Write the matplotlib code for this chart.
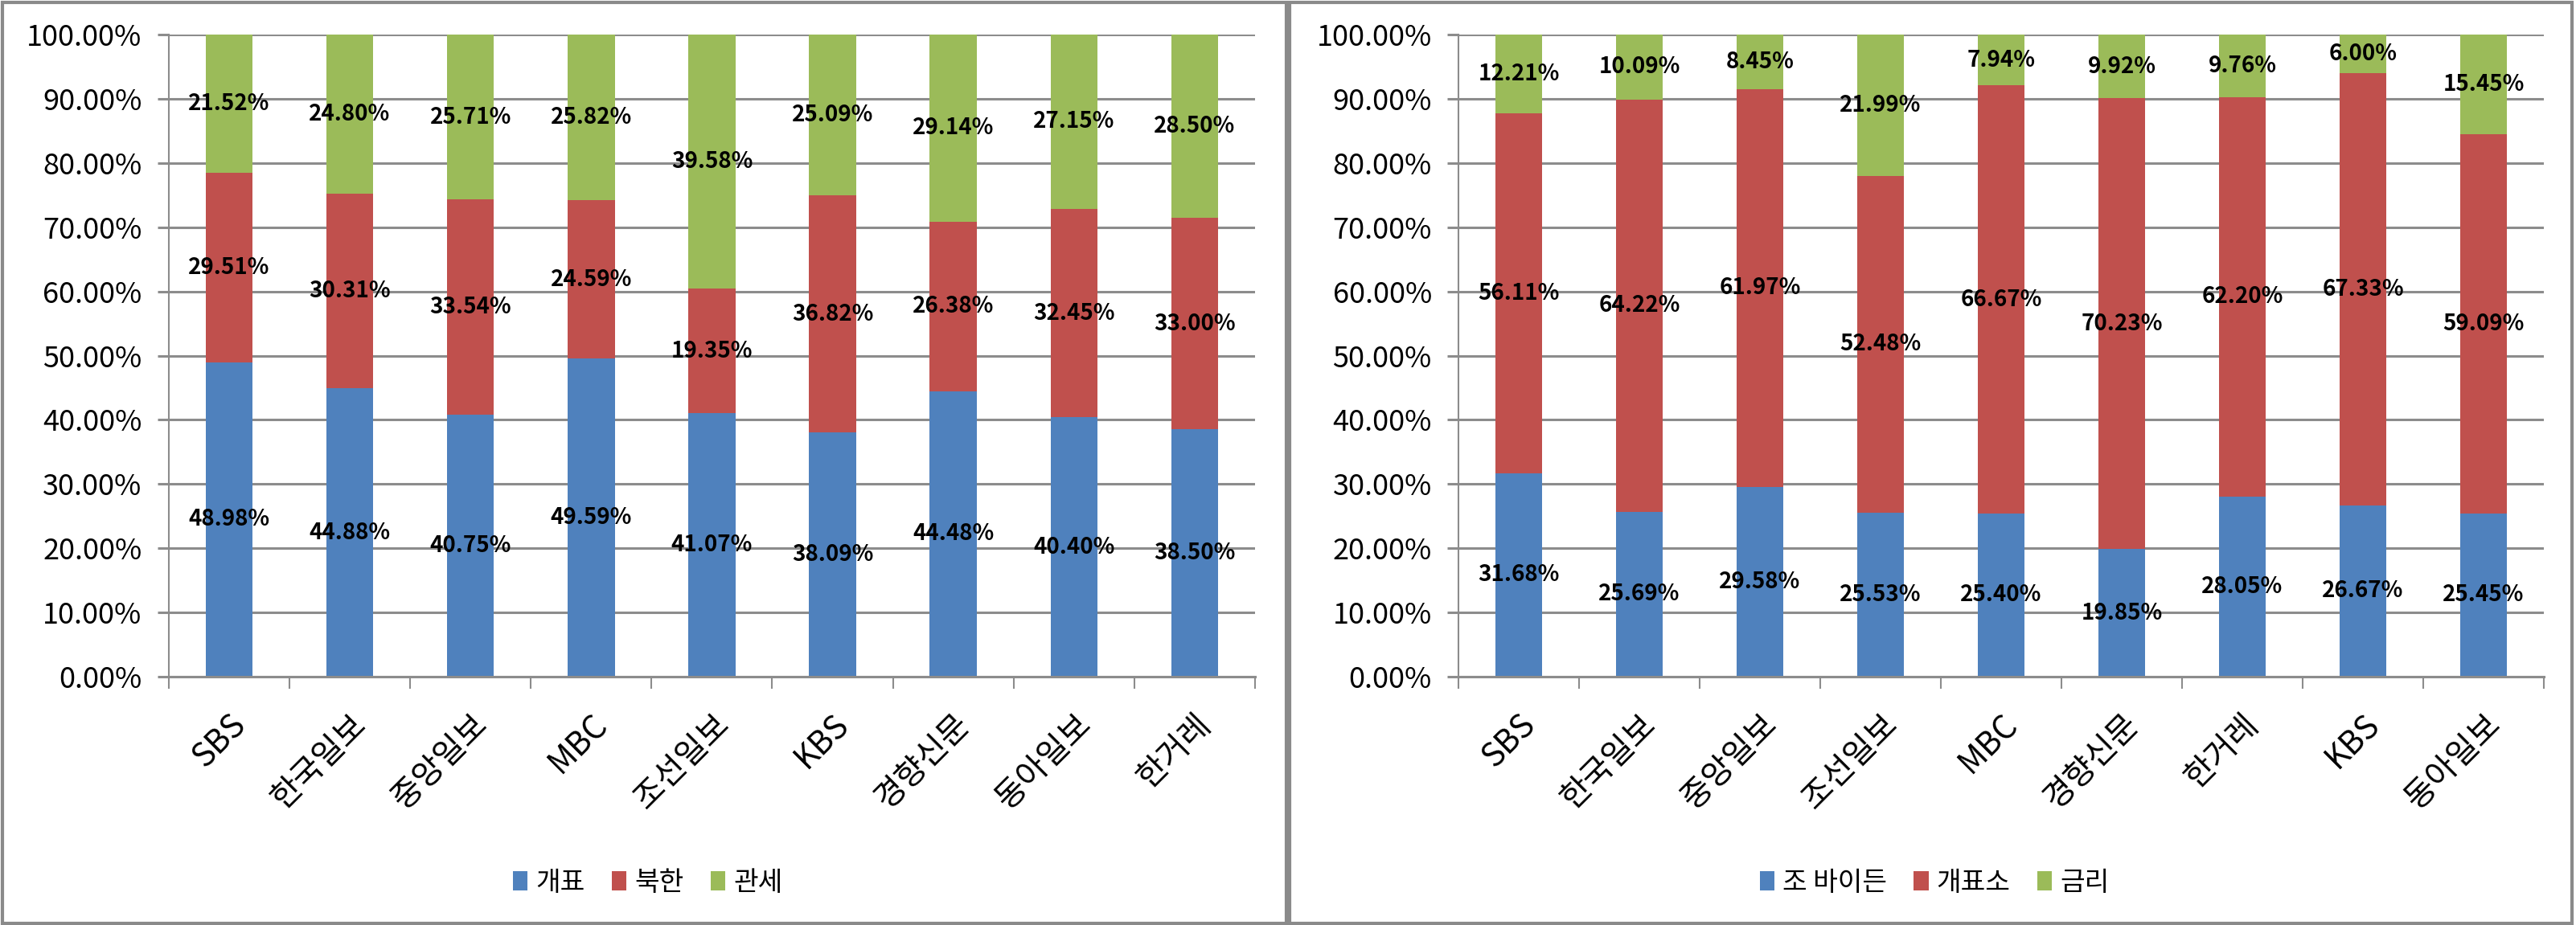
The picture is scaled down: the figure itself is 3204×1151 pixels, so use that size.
import numpy as np
import matplotlib
matplotlib.use("Agg")
import matplotlib.pyplot as plt
from matplotlib.patches import Rectangle
from matplotlib.ticker import FixedLocator, FuncFormatter

plt.rcParams['font.family'] = ['Noto Sans CJK KR', 'DejaVu Sans']

# left chart
left_cats = ["SBS", "한국일보", "중앙일보", "MBC", "조선일보", "KBS", "경향신문", "동아일보", "한거레"]
left_names = ["개표", "북한", "관세"]
left_gaepyo = [48.98, 44.88, 40.75, 49.59, 41.07, 38.09, 44.48, 40.40, 38.50]
left_bukhan = [29.51, 30.31, 33.54, 24.59, 19.35, 36.82, 26.38, 32.45, 33.00]
left_gwanse = [21.52, 24.80, 25.71, 25.82, 39.58, 25.09, 29.14, 27.15, 28.50]

# right chart
right_cats = ["SBS", "한국일보", "중앙일보", "조선일보", "MBC", "경향신문", "한거레", "KBS", "동아일보"]
right_names = ["조 바이든", "개표소", "금리"]
right_biden = [31.68, 25.69, 29.58, 25.53, 25.40, 19.85, 28.05, 26.67, 25.45]
right_gaepyoso = [56.11, 64.22, 61.97, 52.48, 66.67, 70.23, 62.20, 67.33, 59.09]
right_geumri = [12.21, 10.09, 8.45, 21.99, 7.94, 9.92, 9.76, 6.00, 15.45]

colors = ["#4f81bd", "#c0504d", "#9bbb59"]
grid_col = "#8c8c8c"


def draw_panel(ax, cats, series, names, legend_x):
    x = np.arange(len(cats))
    bottom = np.zeros(len(cats))
    handles = []
    for vals, col, name in zip(series, colors, names):
        vals = np.array(vals)
        bars = ax.bar(x, vals, 0.39, bottom=bottom, color=col, zorder=2, label=name)
        handles.append(bars)
        for xi, b, v in zip(x, bottom, vals):
            ax.text(xi, b + v / 2, "%.2f%%" % v, ha="center", va="center",
                    fontsize=20, fontweight="bold", color="black", zorder=3)
        bottom = bottom + vals

    ax.set_xlim(-0.5, len(cats) - 0.5)
    ax.set_ylim(0, 100)
    ax.set_yticks(np.arange(0, 101, 10))
    ax.yaxis.set_major_formatter(FuncFormatter(lambda v, p: "%.2f%%" % v))
    ax.grid(axis="y", color=grid_col, linewidth=2.2, zorder=0)
    ax.set_axisbelow(True)

    ax.set_xticks(x)
    ax.set_xticklabels(cats, rotation=45, ha="right", rotation_mode="anchor", fontsize=29)
    ax.tick_params(axis="x", length=0, pad=28)
    ax.xaxis.set_minor_locator(FixedLocator(np.arange(-0.5, len(cats), 1.0)))
    ax.tick_params(axis="x", which="minor", length=11, width=1.5, color=grid_col)
    ax.tick_params(axis="y", length=10, width=2.2, color=grid_col, labelsize=26, pad=14)

    for s in ["top", "right"]:
        ax.spines[s].set_visible(False)
    ax.spines["left"].set_color(grid_col)
    ax.spines["left"].set_linewidth(1.5)
    ax.spines["bottom"].set_color(grid_col)
    ax.spines["bottom"].set_linewidth(2.2)

    fig.legend(handles, names, loc="center", bbox_to_anchor=(legend_x, 0.046),
               ncol=3, frameon=False, fontsize=24, handlelength=0.55, handleheight=0.7,
               handletextpad=0.3, columnspacing=1.0)


fig = plt.figure(figsize=(32.04, 11.51), dpi=100)
ax1 = fig.add_axes([0.0655, 0.2685, 0.4217, 0.6941])
ax2 = fig.add_axes([0.5662, 0.2685, 0.4213, 0.6941])

draw_panel(ax1, left_cats, [left_gaepyo, left_bukhan, left_gwanse], left_names, 0.2515)
draw_panel(ax2, right_cats, [right_biden, right_gaepyoso, right_geumri], right_names, 0.751)

# chart area borders
fig.add_artist(Rectangle((0.001, 0.002), 0.4985, 0.995, transform=fig.transFigure,
                         fill=False, edgecolor="#8a8a8a", linewidth=3))
fig.add_artist(Rectangle((0.5005, 0.002), 0.498, 0.995, transform=fig.transFigure,
                         fill=False, edgecolor="#8a8a8a", linewidth=3))

fig.savefig("out.png", dpi=100)
